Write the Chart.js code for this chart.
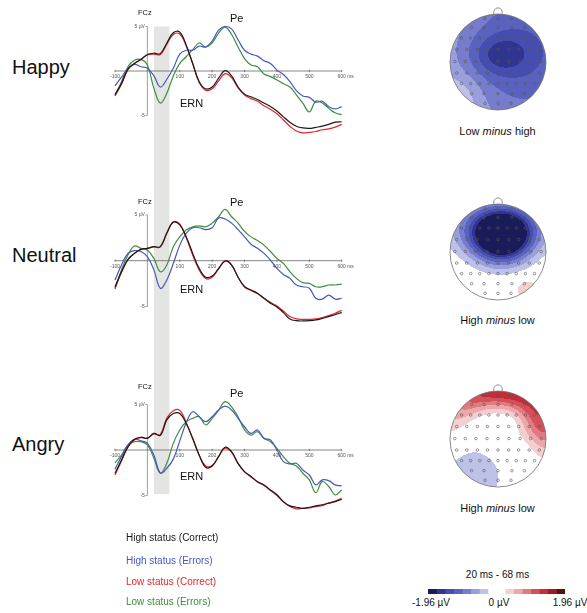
<!DOCTYPE html>
<html><head><meta charset="utf-8">
<script src="https://cdn.jsdelivr.net/npm/chart.js@4/dist/chart.umd.min.js"></script>
<style>
html,body{margin:0;padding:0;background:#fff}
#wrap{position:relative;width:587px;height:613px;overflow:hidden;font-family:"Liberation Sans",Arial,sans-serif;color:#111}
canvas{position:absolute}
.t{position:absolute;white-space:nowrap;line-height:1;z-index:3}
</style></head><body><div id="wrap">
<canvas id="w1" width="260" height="190" style="left:100px;top:0px"></canvas>
<canvas id="w2" width="260" height="190" style="left:100px;top:190px"></canvas>
<canvas id="w3" width="260" height="140" style="left:100px;top:380px"></canvas>
<canvas id="h1" width="116" height="120"></canvas>
<canvas id="h2" width="116" height="120"></canvas>
<canvas id="h3" width="116" height="120"></canvas>
<canvas id="cb" width="137" height="5" style="left:428px;top:589px"></canvas>
</div>
<script>
// ---------------- DATA ----------------
const times = [-100,-80,-60,-40,-20,0,20,40,60,80,100,120,140,160,180,200,220,240,260,280,300,320,340,360,380,400,420,440,460,480,500,520,540,560,580,600];

const happyHighCorrect = [-2.67,-1.4,0.2,0.85,1.3,1.85,2.0,1.95,3.15,4.3,4.37,2.9,0.85,-1.2,-2.0,-1.8,-0.8,0.04,-0.55,-1.8,-2.6,-2.9,-3.2,-3.6,-4.0,-4.5,-5.15,-5.75,-6.2,-6.4,-6.45,-6.33,-6.2,-6.0,-5.75,-5.7];
const happyHighErrors  = [-1.67,-0.7,0.3,0.74,0.48,0.3,-0.55,-1.8,-0.93,0.3,1.9,2.33,2.33,2.8,2.7,3.37,4.6,5.0,4.74,3.5,2.33,1.9,1.67,1.15,0.85,0.1,-0.4,-1.2,-2.2,-2.8,-2.96,-3.5,-3.4,-4.0,-4.26,-4.0];
const happyLowCorrect  = [-2.8,-1.5,0.15,0.85,1.3,1.8,1.9,1.85,3.0,4.1,4.15,2.8,0.8,-1.3,-2.15,-2.0,-1.1,-0.3,-0.75,-1.9,-2.7,-3.1,-3.4,-3.9,-4.3,-4.8,-5.5,-6.2,-6.75,-6.95,-6.9,-6.8,-6.6,-6.5,-6.3,-6.0];
const happyLowErrors   = [-2.74,-1.2,0.48,1.2,1.3,0.67,-1.93,-3.6,-2.5,-0.55,0.85,1.6,2.4,3.15,2.7,3.15,4.26,4.93,4.1,2.7,1.4,0.67,0.48,-0.33,-0.63,-1.0,-1.44,-1.8,-2.67,-3.6,-4.6,-3.4,-3.6,-4.2,-4.7,-4.9];

const neutralHighCorrect = [-2.84,-1.2,0.15,0.8,1.24,1.35,1.53,1.53,3.0,4.2,3.9,2.6,0.8,-0.84,-1.8,-1.67,-0.84,-0.04,-0.47,-1.8,-2.84,-3.2,-3.56,-4.1,-4.65,-5.05,-5.67,-6.36,-6.55,-6.58,-6.55,-6.47,-6.3,-6.1,-5.9,-5.64];
const neutralHighErrors  = [-2.1,-0.47,0.8,1.1,1.0,0.44,-1.0,-3.0,-2.1,-0.3,1.7,3.0,3.6,3.6,3.4,3.6,4.65,4.55,4.1,3.4,2.6,1.8,1.35,0.8,0.07,-0.84,-1.5,-1.93,-2.65,-2.84,-3.0,-4.1,-4.2,-3.75,-4.2,-4.1];
const neutralLowCorrect  = [-3.0,-1.3,0.1,0.8,1.24,1.35,1.5,1.5,3.05,4.25,4.0,2.5,0.6,-1.0,-1.95,-1.8,-0.9,0.0,-0.45,-1.8,-2.84,-3.25,-3.6,-4.1,-4.55,-4.95,-5.5,-6.1,-6.35,-6.4,-6.4,-6.35,-6.2,-6.0,-5.75,-5.4];
const neutralLowErrors   = [-3.1,-1.0,0.62,1.6,1.35,1.16,0.25,-1.2,-0.47,1.53,2.6,3.35,3.7,3.8,3.7,4.1,4.8,5.6,4.8,4.1,3.2,2.6,2.2,1.7,1.0,0.25,-0.3,-1.2,-1.93,-2.4,-2.47,-2.84,-2.84,-2.65,-2.65,-2.55];

const angryHighCorrect = [-2.55,-1.1,0.36,1.17,1.4,1.28,1.82,1.6,3.3,4.0,4.0,2.9,1.28,-0.55,-1.9,-1.75,-0.73,0.3,-0.18,-1.46,-2.37,-2.9,-3.47,-3.83,-4.38,-4.9,-5.66,-6.13,-6.28,-6.39,-6.28,-6.13,-6.0,-5.84,-5.66,-5.4];
const angryHighErrors  = [-2.1,-0.73,0.55,1.17,1.0,0.73,-0.55,-2.5,-2.0,-1.0,1.0,3.0,4.2,3.65,3.1,3.65,4.38,4.8,4.38,3.47,2.55,1.82,2.2,1.28,1.1,0.0,-1.28,-1.53,-1.46,-2.2,-2.74,-3.83,-3.28,-3.36,-3.83,-3.94];
const angryLowCorrect  = [-2.75,-1.2,0.3,1.1,1.35,1.3,1.75,1.7,3.5,4.3,4.35,3.0,1.2,-0.6,-1.75,-1.7,-0.7,0.2,-0.25,-1.5,-2.4,-2.95,-3.5,-3.9,-4.45,-5.0,-5.7,-6.2,-6.45,-6.4,-6.35,-6.2,-6.1,-5.8,-5.6,-5.3];
const angryLowErrors   = [-1.4,-0.55,0.55,0.9,0.9,0.55,-0.9,-2.55,-1.46,0.73,2.2,3.1,3.47,3.65,2.74,3.47,4.38,5.3,4.74,3.65,2.2,1.64,2.0,1.28,0.9,0.18,-0.73,-1.46,-1.75,-2.55,-3.28,-4.67,-3.47,-4.0,-4.93,-4.38];

const seriesNames = ['High status (Correct)','High status (Errors)','Low status (Correct)','Low status (Errors)'];
const rowLabels = ['Happy','Neutral','Angry'];
const xTicks = [-100,0,100,200,300,400,500,600];
const yTicks = [5,-5];
const timeWindow = [20,68];

// topography: electrode layout (head units) and field components
// 'g': [x, y, amplitude µV, sx, sy]   'p': [angle from nose deg, radius, amplitude µV, s_angle deg, s_radius]
const electrodeX = [-0.27,0,0.27, -0.55,-0.29,0,0.29,0.55, -0.76,-0.57,-0.38,-0.19,0,0.19,0.38,0.57,0.76, -0.86,-0.65,-0.43,-0.22,0,0.22,0.43,0.65,0.86, -0.9,-0.68,-0.46,-0.23,0,0.23,0.46,0.68,0.9, -0.86,-0.65,-0.43,-0.22,0,0.22,0.43,0.65,0.86, -0.76,-0.57,-0.38,-0.19,0,0.19,0.38,0.57,0.76, -0.55,-0.29,0,0.29,0.55, -0.27,0,0.27];
const electrodeY = [0.9,0.9,0.9, 0.72,0.72,0.72,0.72,0.72, 0.5,0.5,0.5,0.5,0.5,0.5,0.5,0.5,0.5, 0.26,0.26,0.26,0.26,0.26,0.26,0.26,0.26,0.26, 0.01,0.01,0.01,0.01,0.01,0.01,0.01,0.01,0.01, -0.23,-0.23,-0.23,-0.23,-0.23,-0.23,-0.23,-0.23,-0.23, -0.45,-0.45,-0.45,-0.45,-0.45,-0.45,-0.45,-0.45,-0.45, -0.66,-0.66,-0.66,-0.66,-0.66, -0.86,-0.86,-0.86];
const happyTopo   = [['g',0.6,0.25,-1.2,1.4,1.6],['g',0.05,0.15,-0.55,0.42,0.3],['g',-0.8,-0.75,0.3,0.35,0.35]];
const neutralTopo = [['g',0.07,0.32,-2.6,0.42,0.36],['g',0,0.55,-0.8,0.8,0.38],['g',0.62,-0.78,0.5,0.18,0.15]];
const angryTopo   = [['p',5,1.0,1.45,48,0.25],['p',75,0.95,0.6,22,0.33],['g',-0.6,-0.8,-0.45,0.55,0.5]];
const topoCaptions = ['Low <i>minus</i> high','High <i>minus</i> low','High <i>minus</i> low'];
const colorbarEdges = [-1.96,-1.715,-1.47,-1.225,-0.98,-0.735,-0.49,-0.245,0,0.245,0.49,0.735,0.98,1.225,1.47,1.715,1.96];
const colorbarLabels = ['-1.96 µV','0 µV','1.96 µV'];

// ---------------- STYLE ----------------
const lineColors = ['#1a1a1a','#4658c2','#e4262d','#3e8d3e'];
const negColors = ['#bfc2e8','#9a9fdb','#767dcc','#5a62bf','#454db0','#30368f','#191c58'];
const posColors = ['#f4cfcf','#eba7a9','#e07b80','#d4505a','#c22d38','#981b22','#5a0e10'];
const levelStep = 0.245;
const FONT = '"Liberation Sans", Arial, sans-serif';

function colorFor(v){
  const n = Math.floor(Math.abs(v)/levelStep);
  if (n < 1) return null;
  const i = Math.min(n,7)-1;
  return v < 0 ? negColors[i] : posColors[i];
}
function hexRgb(h){return [parseInt(h.substr(1,2),16),parseInt(h.substr(3,2),16),parseInt(h.substr(5,2),16)];}
function field(u,v,src){
  let s=0;
  for(const c of src){
    if(c[0]==='g'){const [,x0,y0,a,sx,sy]=c; s+=a*Math.exp(-((u-x0)*(u-x0)/(2*sx*sx)+(v-y0)*(v-y0)/(2*sy*sy)));}
    else {const [,t0,r0,a,st,sr]=c; const th=Math.atan2(u,v)*180/Math.PI, r=Math.hypot(u,v);
      let d=th-t0; if(d>180)d-=360; if(d<-180)d+=360;
      s+=a*Math.exp(-(d*d/(2*st*st)+(r-r0)*(r-r0)/(2*sr*sr)));}
  }
  return s;
}

const wrap = document.getElementById('wrap');
function txt(html,x,baseline,size,opt={}){
  const d=document.createElement('div'); d.className='t'; d.innerHTML=html;
  d.style.fontSize=size+'px'; d.style.top=(baseline-0.8465*size)+'px'; d.style.left=x+'px';
  if(opt.color) d.style.color=opt.color;
  if(opt.center) d.style.transform='translateX(-50%)';
  wrap.appendChild(d);
}

// ---------------- WAVEFORMS ----------------
const erpPlugin = {
  id:'erp',
  beforeDatasetsDraw(chart,args,o){
    const ctx=chart.ctx, xs=chart.scales.x, ys=chart.scales.y;
    ctx.save();
    const b1=xs.getPixelForValue(timeWindow[0]), b2=xs.getPixelForValue(timeWindow[1]);
    const t1=o.bandTop?ys.getPixelForValue(yTicks[0]):0;
    const t2=o.bandBottom?ys.getPixelForValue(yTicks[1])-1.5:chart.height;
    ctx.fillStyle='#e3e5e3'; ctx.fillRect(b1,t1,b2-b1,t2-t1);
    const y0=ys.getPixelForValue(0), x0=xs.getPixelForValue(0);
    ctx.strokeStyle='#666'; ctx.lineWidth=0.8;
    ctx.beginPath(); ctx.moveTo(xs.getPixelForValue(xTicks[0]),y0); ctx.lineTo(xs.getPixelForValue(xTicks[xTicks.length-1]),y0); ctx.stroke();
    ctx.font='5px '+FONT; ctx.fillStyle='#555'; ctx.textBaseline='top';
    xTicks.forEach(t=>{
      const p=xs.getPixelForValue(t);
      ctx.beginPath(); ctx.moveTo(p,y0-1.2); ctx.lineTo(p,y0+1.2); ctx.stroke();
      if(t!==0){ctx.textAlign='center'; ctx.fillText(String(t),p,y0+3);}
      if(t===xTicks[xTicks.length-1]){ctx.textAlign='left'; ctx.fillText('ms',p+5.5,y0+3);}
    });
    ctx.strokeStyle='#888';
    ctx.beginPath(); ctx.moveTo(x0,ys.getPixelForValue(yTicks[0])); ctx.lineTo(x0,ys.getPixelForValue(yTicks[1])); ctx.stroke();
    ctx.textAlign='right'; ctx.textBaseline='middle';
    yTicks.forEach(v=>{
      const p=ys.getPixelForValue(v);
      ctx.beginPath(); ctx.moveTo(x0-2,p); ctx.lineTo(x0,p); ctx.stroke();
      ctx.fillText(v>0?(v+' µV'):String(v),x0-2.5,p);
    });
    ctx.restore();
  }
};

const panels = [
  {id:'w1', series:[happyHighCorrect,happyLowCorrect,happyHighErrors,happyLowErrors], padTop:26.5, padBottom:74.5, bandTop:true, bandBottom:false},
  {id:'w2', series:[neutralHighCorrect,neutralLowCorrect,neutralHighErrors,neutralLowErrors], padTop:24.9, padBottom:73.5, bandTop:false, bandBottom:false},
  {id:'w3', series:[angryHighCorrect,angryLowCorrect,angryHighErrors,angryLowErrors], padTop:24.4, padBottom:24.4, bandTop:false, bandBottom:true}
];
const seriesColorIdx=[0,2,1,3];
panels.forEach(p=>{
  new Chart(document.getElementById(p.id),{
    type:'line',
    data:{datasets:p.series.map((s,i)=>({
      label:seriesNames[seriesColorIdx[i]],
      data:times.map((t,k)=>({x:t,y:s[k]})),
      borderColor:lineColors[seriesColorIdx[i]], borderWidth:1.2, pointRadius:0, tension:0.4, fill:false, clip:false
    }))},
    options:{
      responsive:false, animation:false, devicePixelRatio:1,
      layout:{padding:{left:15,right:18.3,top:p.padTop,bottom:p.padBottom}},
      scales:{x:{type:'linear',min:-100,max:600,display:false},y:{type:'linear',min:-5,max:5,display:false}},
      plugins:{legend:{display:false},tooltip:{enabled:false},erp:{bandTop:p.bandTop,bandBottom:p.bandBottom}}
    },
    plugins:[erpPlugin]
  });
});

// ---------------- TOPOGRAPHIES ----------------
const topoPlugin = {
  id:'topo',
  beforeDatasetsDraw(chart,args,o){
    const ctx=chart.ctx, a=chart.chartArea, xs=chart.scales.x, ys=chart.scales.y;
    const w=Math.round(a.right-a.left), h=Math.round(a.bottom-a.top);
    const off=document.createElement('canvas'); off.width=w; off.height=h;
    const oc=off.getContext('2d'); const img=oc.createImageData(w,h);
    for(let py=0;py<h;py++)for(let px=0;px<w;px++){
      const u=xs.getValueForPixel(a.left+px+0.5), v=ys.getValueForPixel(a.top+py+0.5);
      const c=colorFor(field(u,v,o.sources)); const rgb=c?hexRgb(c):[255,255,255];
      const k=(py*w+px)*4; img.data[k]=rgb[0]; img.data[k+1]=rgb[1]; img.data[k+2]=rgb[2]; img.data[k+3]=255;
    }
    oc.putImageData(img,0,0);
    const cx=xs.getPixelForValue(0), cy=ys.getPixelForValue(0), R=xs.getPixelForValue(1)-cx;
    ctx.save(); ctx.beginPath(); ctx.arc(cx,cy,R,0,Math.PI*2); ctx.clip(); ctx.drawImage(off,a.left,a.top); ctx.restore();
    ctx.save(); ctx.strokeStyle='#707070'; ctx.lineWidth=0.8;
    ctx.beginPath(); ctx.arc(cx,cy,R,0,Math.PI*2); ctx.stroke();
    ctx.beginPath(); ctx.moveTo(xs.getPixelForValue(-0.085),ys.getPixelForValue(0.996));
    ctx.bezierCurveTo(xs.getPixelForValue(-0.12),ys.getPixelForValue(1.17),xs.getPixelForValue(0.12),ys.getPixelForValue(1.17),xs.getPixelForValue(0.085),ys.getPixelForValue(0.996));
    ctx.stroke(); ctx.restore();
  }
};
const heads = [
  {id:'h1', cx:498, cy:61.7, src:happyTopo},
  {id:'h2', cx:498.3, cy:251.5, src:neutralTopo},
  {id:'h3', cx:498.3, cy:439.2, src:angryTopo}
];
const R=48;
heads.forEach(hd=>{
  const c=document.getElementById(hd.id);
  c.style.left=(hd.cx-R-10)+'px'; c.style.top=(hd.cy-R-14)+'px';
  new Chart(c,{
    type:'scatter',
    data:{datasets:[{data:electrodeX.map((x,i)=>({x:x,y:electrodeY[i]})),pointRadius:1.3,borderWidth:0.6,borderColor:'#555',backgroundColor:'rgba(0,0,0,0)'}]},
    options:{responsive:false,animation:false,devicePixelRatio:1,
      layout:{padding:{left:10,right:10,top:14,bottom:10}},
      scales:{x:{min:-1,max:1,display:false},y:{min:-1,max:1,display:false}},
      plugins:{legend:{display:false},tooltip:{enabled:false},topo:{sources:hd.src}}},
    plugins:[topoPlugin]
  });
});

// ---------------- COLORBAR ----------------
new Chart(document.getElementById('cb'),{
  type:'bar',
  data:{labels:[''],datasets:colorbarEdges.slice(0,-1).map((e,i)=>{
    const mid=(e+colorbarEdges[i+1])/2; const c=colorFor(mid);
    return {data:[[e,colorbarEdges[i+1]]],backgroundColor:c||'#ffffff',borderWidth:0,barPercentage:1,categoryPercentage:1,grouped:false};
  })},
  options:{indexAxis:'y',responsive:false,animation:false,devicePixelRatio:1,layout:{padding:0},
    scales:{x:{min:-1.96,max:1.96,display:false},y:{display:false}},
    plugins:{legend:{display:false},tooltip:{enabled:false}}}
});

// ---------------- TEXT ----------------
txt(rowLabels[0],12,74,20); txt(rowLabels[1],12,262,20); txt(rowLabels[2],12,451,20);
[[15.7,22,107],[204.4,206.7,293],[389.7,397,480]].forEach(b=>{
  txt('FCz',138,b[0],7.5); txt('Pe',230,b[1],11); txt('ERN',180,b[2],11);
});
const legendBase=[541.5,564,585,605];
seriesNames.forEach((n,i)=>txt(n,126,legendBase[i],10,{color:lineColors[i]}));
txt(topoCaptions[0],497.5,135.7,11,{center:true});
txt(topoCaptions[1],497.5,324,11,{center:true});
txt(topoCaptions[2],497.5,512,11,{center:true});
txt('20 ms - 68 ms',497.5,578.5,10,{center:true});
txt(colorbarLabels[0],431,606,10,{center:true});
txt(colorbarLabels[1],499,606,10,{center:true});
txt(colorbarLabels[2],570,606,10,{center:true});
</script></body></html>
